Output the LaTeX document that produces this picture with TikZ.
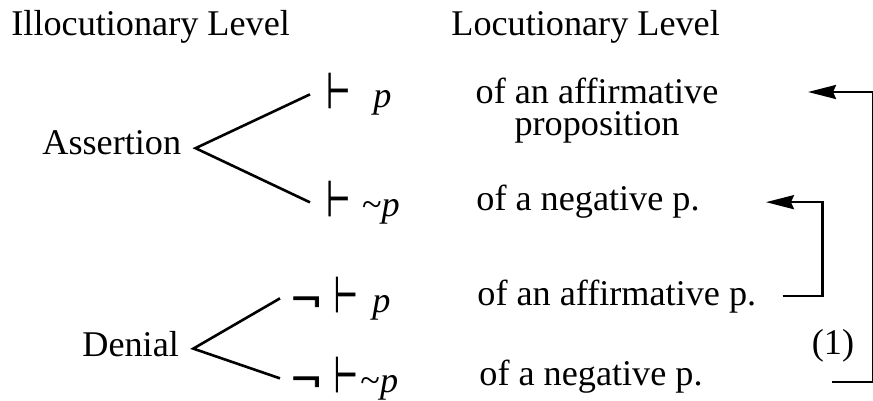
\documentclass[tikz,border=0pt]{standalone}
\usepackage{fontspec}
\setmainfont{Liberation Serif}
\newfontface\logicfont{DejaVu Sans}[FakeBold=1.5]
\usepackage{graphicx}
\usepackage{tikz}
\usetikzlibrary{arrows.meta,positioning,calc}
\newcommand{\turnst}{{\logicfont\scalebox{0.75}[1.38]{⊢}}}
\newcommand{\negsgn}{{\logicfont\scalebox{1.1}[1]{¬}}}
\tikzset{
  lvl/.style={inner sep=0pt, font=\fontsize{18.1}{16}\selectfont},
  sym/.style={inner ysep=0pt, inner xsep=#1, anchor=base west,
              font=\fontsize{18.1}{16}\selectfont},
  branch/.style={line width=1.3pt},
  back/.style={-{Stealth[length=14pt, width=7pt, inset=1.5pt]}, line width=1.3pt},
}
\begin{document}
\begin{tikzpicture}[x=0.5pt, y=-0.5pt]
    \useasboundingbox (0,0) rectangle (873,401);
    % column heads
    \node[lvl, anchor=base west] (illoc) at (11,36) {Illocutionary Level};
    \node[lvl, anchor=base west] (locut) at (451,36) {Locutionary Level};
    % illocutionary acts
    \node[lvl, anchor=base west] (assert) at (42,155) {Assertion};
    \node[lvl, anchor=base west] (denial) at (82,356) {Denial};
    \node[sym=8pt] (ap) at (310,108) {\turnst\hspace{11.6pt}\textit{p}};
    \node[sym=8pt] (anp) at (310,216) {\turnst\hspace{6pt}\textasciitilde\textit{p}};
    \node[sym=4.5pt] (dp) at (280,312) {\negsgn\hspace{5.5pt}\turnst\hspace{7.5pt}\textit{p}};
    \node[sym=4.5pt] (dnp) at (280,392) {\negsgn\hspace{5.5pt}\turnst\hspace{1.5pt}\textasciitilde\textit{p}};
    % locutionary contents
    \node[lvl, align=center, anchor=base] (aff1) at (597,135) {of an affirmative\\proposition};
    \node[lvl, anchor=base west] (neg1) at (476,211) {of a negative p.};
    \node[lvl, anchor=base west] (aff2) at (477,305) {of an affirmative p.};
    \node[lvl, anchor=base west] (neg2) at (479,385) {of a negative p.};
    \node[lvl, anchor=base] (one) at (833,354) {(1)};
    % branches
    \draw[branch] (ap.west) -- ([shift={(14,5)}]assert.east) -- (anp.west);
    \draw[branch] (dp.west) -- ([shift={(14,5)}]denial.east) -- (dnp.west);
    % transformations
    \coordinate (negout) at (832,382);
    \coordinate (affin) at (808,92);
    \draw[back] ([xshift=13pt]aff2.east) -- ++(40,0) |- ([xshift=33pt]neg1.east);
    \draw[back] (negout) -- ++(41,0) |- (affin);
\end{tikzpicture}
\end{document}
